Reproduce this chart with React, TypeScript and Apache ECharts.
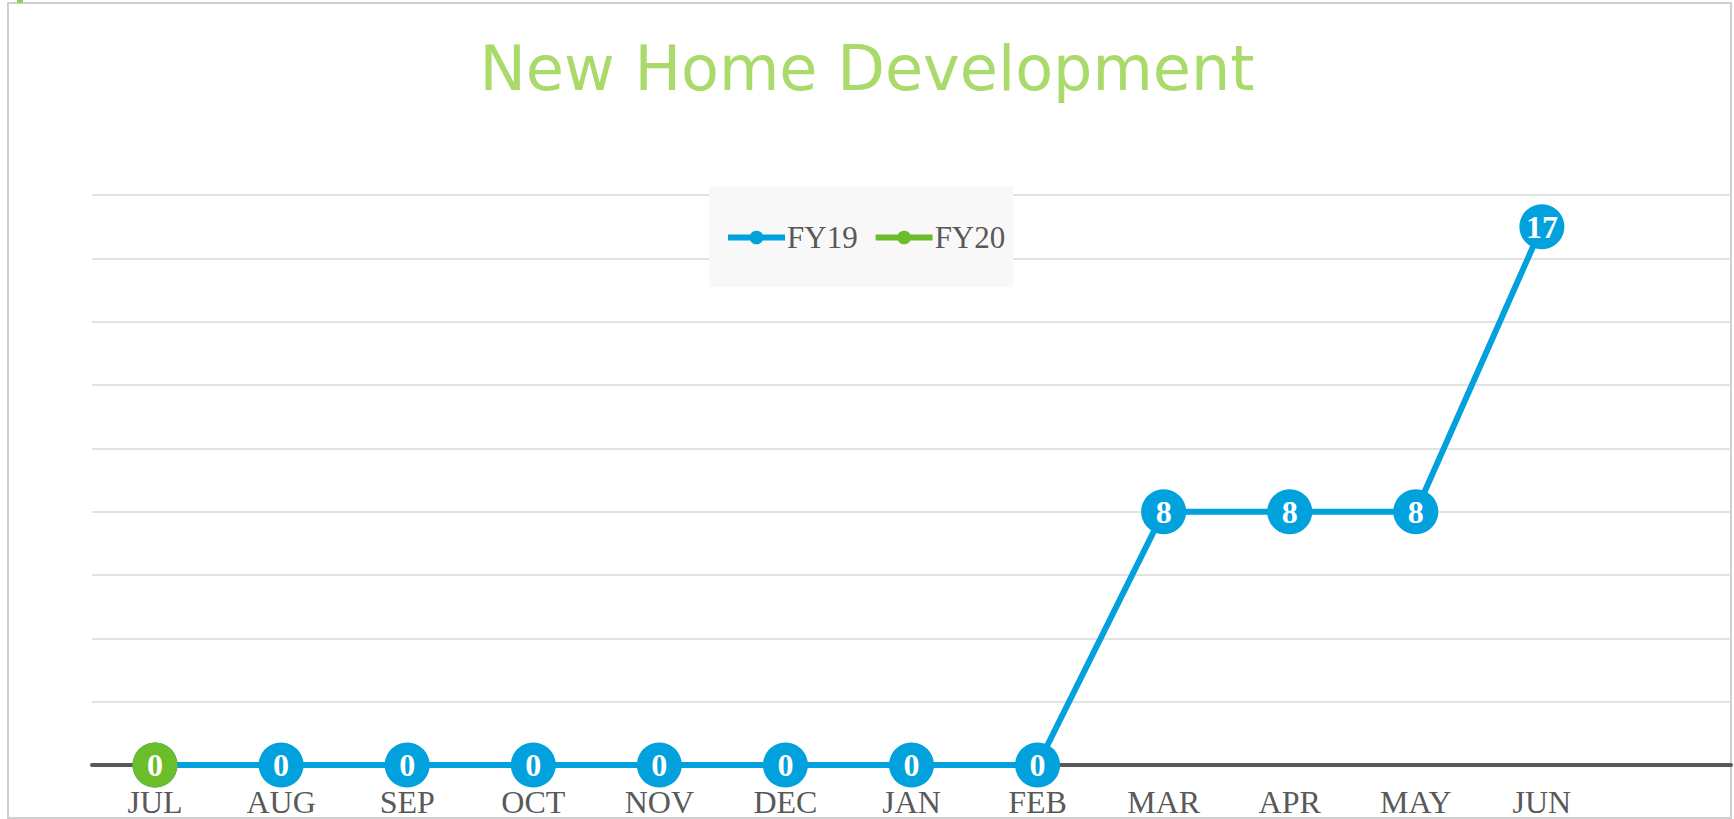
import React, { useEffect, useRef } from "react";
import * as echarts from "echarts";

const categories = ["JUL", "AUG", "SEP", "OCT", "NOV", "DEC", "JAN", "FEB", "MAR", "APR", "MAY", "JUN", ""];
const fy19 = [0, 0, 0, 0, 0, 0, 0, 0, 8, 8, 8, 17, null];
const fy20 = [0, null, null, null, null, null, null, null, null, null, null, null, null];
const title = "New Home Development";

const BLUE = "#00a1dc";
const GREEN = "#6bbd2a";

export default function App() {
  const ref = useRef<HTMLDivElement>(null);
  useEffect(() => {
    document.body.style.margin = "0";
    const chart = echarts.init(ref.current!, null, { renderer: "svg" });
    const label = {
      show: true,
      position: "inside",
      formatter: "{c}",
      color: "#ffffff",
      fontFamily: "Liberation Serif",
      fontWeight: "bold",
      fontSize: 32,
    };
    chart.setOption({
      animation: false,
      backgroundColor: "#ffffff",
      title: {
        text: title,
        left: "center",
        top: 32,
        textStyle: {
          color: "#a9da6a",
          fontFamily: "DejaVu Sans",
          fontWeight: "normal",
          fontSize: 62,
        },
      },
      legend: {
        left: 709,
        top: 186,
        backgroundColor: "#f8f8f8",
        padding: [36, 8, 34, 16],
        itemGap: 15,
        itemWidth: 57,
        itemHeight: 17,
        lineStyle: { width: 6 },
        textStyle: { fontFamily: "Liberation Serif", fontSize: 31, color: "#595959", padding: [0, 0, 0, -3] },
        data: ["FY19", "FY20"],
      },
      grid: { left: 92, right: 3, top: 195, bottom: 54, containLabel: false },
      xAxis: {
        type: "category",
        data: categories,
        boundaryGap: true,
        axisLine: { lineStyle: { color: "#595959", width: 4 } },
        axisTick: { show: false },
        axisLabel: {
          interval: 0,
          margin: 21,
          color: "#595959",
          fontFamily: "Liberation Serif",
          fontSize: 32,
        },
      },
      yAxis: {
        type: "value",
        min: 0,
        max: 18,
        interval: 2,
        axisLabel: { show: false },
        axisLine: { show: false },
        axisTick: { show: false },
        splitLine: { lineStyle: { color: "#d9d9d9", width: 1.5 } },
      },
      series: [
        {
          name: "FY19",
          type: "line",
          data: fy19,
          symbol: "circle",
          symbolSize: 45,
          lineStyle: { color: BLUE, width: 6 },
          itemStyle: { color: BLUE },
          label,
          z: 2,
        },
        {
          name: "FY20",
          type: "line",
          data: fy20,
          symbol: "circle",
          symbolSize: 45,
          lineStyle: { color: GREEN, width: 6 },
          itemStyle: { color: GREEN },
          label,
          z: 3,
        },
      ],
      graphic: [
        {
          type: "rect",
          shape: { x: 8, y: 3, width: 1723, height: 815 },
          style: { fill: "none", stroke: "#d0d0d0", lineWidth: 2 },
          silent: true,
        },
        {
          type: "rect",
          shape: { x: 17, y: 0, width: 6, height: 3 },
          style: { fill: "#92d050" },
          silent: true,
        },
      ],
    });
    return () => chart.dispose();
  }, []);
  return <div ref={ref} style={{ width: 1734, height: 819 }} />;
}
